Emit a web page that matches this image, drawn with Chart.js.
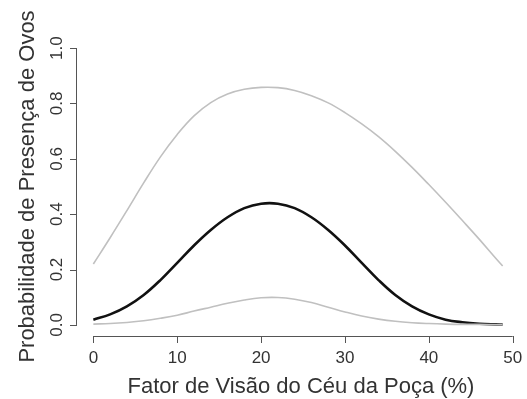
<!DOCTYPE html>
<html>
<head>
<meta charset="utf-8">
<script src="https://cdn.jsdelivr.net/npm/chart.js@4"></script>
<style>
  html, body { margin: 0; padding: 0; background: #fff; }
  #grafico { display: block; }
</style>
</head>
<body>
<canvas id="grafico" width="527" height="399"></canvas>
<script>
// Datos
const fatorVisao = [0, 2, 4, 6, 8, 10, 12, 14, 16, 18, 20, 22, 24, 26, 28, 30, 32, 34, 36, 38, 40, 42, 44, 46, 48, 48.8];
const probMedia = [0.019, 0.038, 0.067, 0.108, 0.162, 0.224, 0.287, 0.343, 0.389, 0.422, 0.438, 0.438, 0.422, 0.389, 0.343, 0.287, 0.224, 0.162, 0.108, 0.067, 0.038, 0.019, 0.0096, 0.0044, 0.002, 0.0015];
const probSuperior = [0.22, 0.315, 0.413, 0.513, 0.607, 0.688, 0.755, 0.803, 0.834, 0.851, 0.858, 0.857, 0.847, 0.828, 0.802, 0.767, 0.726, 0.68, 0.627, 0.569, 0.507, 0.443, 0.377, 0.31, 0.24, 0.213];
const probInferior = [0.003, 0.005, 0.009, 0.015, 0.024, 0.035, 0.05, 0.064, 0.078, 0.09, 0.098, 0.099, 0.093, 0.081, 0.064, 0.047, 0.032, 0.021, 0.013, 0.008, 0.005, 0.003, 0.002, 0.002, 0.001, 0.001];

const xTicks = [0, 10, 20, 30, 40, 50];
const yTicks = [0, 0.2, 0.4, 0.6, 0.8, 1.0];
const yTickLabels = ['0.0', '0.2', '0.4', '0.6', '0.8', '1.0'];

const tituloX = 'Fator de Visão do Céu da Poça (%)';
const tituloY = 'Probabilidade de Presença de Ovos';

const toPoints = (ys) => fatorVisao.map((x, i) => ({ x: x, y: ys[i] }));

// Ejes estilo R (separados del área)
const ejesR = {
  id: 'ejesR',
  afterDraw(chart) {
    const ctx = chart.ctx;
    const xs = chart.scales.x;
    const ys = chart.scales.y;
    const area = chart.chartArea;
    const tick = 7;

    ctx.save();
    ctx.strokeStyle = '#555';
    ctx.lineWidth = 1;

    // eje x
    const yEje = area.bottom;
    ctx.beginPath();
    ctx.moveTo(xs.getPixelForValue(xTicks[0]), yEje + 0.5);
    ctx.lineTo(xs.getPixelForValue(xTicks[xTicks.length - 1]), yEje + 0.5);
    xTicks.forEach(v => {
      const px = Math.round(xs.getPixelForValue(v)) + 0.5;
      ctx.moveTo(px, yEje);
      ctx.lineTo(px, yEje + tick);
    });
    ctx.stroke();

    // eje y
    const xEje = area.left;
    ctx.beginPath();
    ctx.moveTo(xEje - 0.5, ys.getPixelForValue(yTicks[0]));
    ctx.lineTo(xEje - 0.5, ys.getPixelForValue(yTicks[yTicks.length - 1]));
    yTicks.forEach(v => {
      const py = Math.round(ys.getPixelForValue(v)) + 0.5;
      ctx.moveTo(xEje, py);
      ctx.lineTo(xEje - tick, py);
    });
    ctx.stroke();

    ctx.fillStyle = '#333';
    ctx.font = '17px "Liberation Sans", Arial, sans-serif';
    ctx.textAlign = 'center';
    ctx.textBaseline = 'alphabetic';
    xTicks.forEach(v => {
      ctx.fillText(String(v), xs.getPixelForValue(v), yEje + 27);
    });

    yTicks.forEach((v, i) => {
      ctx.save();
      ctx.translate(xEje - 15, ys.getPixelForValue(v));
      ctx.rotate(-Math.PI / 2);
      ctx.fillText(yTickLabels[i], 0, 0);
      ctx.restore();
    });

    ctx.font = '22px "Liberation Sans", Arial, sans-serif';
    ctx.fillText(tituloX, 301, yEje + 57);

    ctx.save();
    ctx.translate(34, (area.top + area.bottom) / 2);
    ctx.rotate(-Math.PI / 2);
    ctx.fillText(tituloY, 0, 0);
    ctx.restore();

    ctx.restore();
  }
};

const config = {
  type: 'line',
  data: {
    datasets: [
      {
        label: 'superior',
        data: toPoints(probSuperior),
        borderColor: '#c0c0c0',
        borderWidth: 1.6,
        pointRadius: 0,
        tension: 0.4
      },
      {
        label: 'inferior',
        data: toPoints(probInferior),
        borderColor: '#c0c0c0',
        borderWidth: 1.6,
        pointRadius: 0,
        tension: 0.4
      },
      {
        label: 'media',
        data: toPoints(probMedia),
        borderColor: '#111',
        borderWidth: 2.6,
        pointRadius: 0,
        tension: 0.4
      }
    ]
  },
  options: {
    responsive: false,
    animation: false,
    events: [],
    layout: {
      padding: { left: 77, right: 8, top: 37, bottom: 63 }
    },
    plugins: {
      legend: { display: false },
      tooltip: { enabled: false }
    },
    scales: {
      x: { type: 'linear', min: -1.95, max: 50.75, display: false },
      y: { type: 'linear', min: -0.04, max: 1.04, display: false }
    }
  },
  plugins: [ejesR]
};

new Chart(document.getElementById('grafico').getContext('2d'), config);
</script>
</body>
</html>
